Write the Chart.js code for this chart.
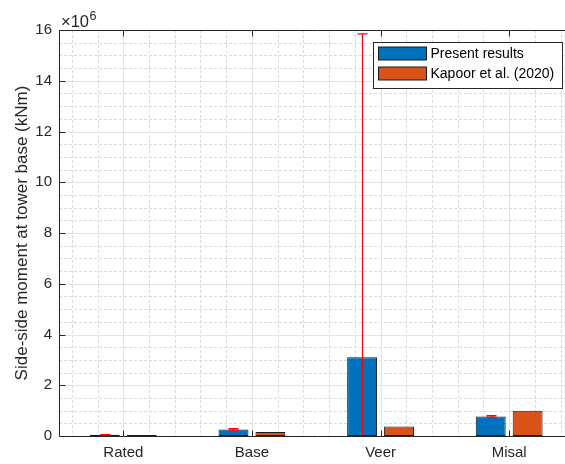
<!DOCTYPE html>
<html><head><meta charset="utf-8">
<script src="https://cdn.jsdelivr.net/npm/chart.js@4.4.1/dist/chart.umd.min.js"></script>
<style>html,body{margin:0;padding:0;background:#fff;overflow:hidden;width:565px;height:464px}canvas{display:block}</style>
</head><body>
<canvas id="c" width="580" height="464"></canvas>
<script>
const categories = ['Rated', 'Base', 'Veer', 'Misal'];
const seriesLabels = ['Present results', 'Kapoor et al. (2020)'];
const presentResults = [0.045, 0.26, 3.10, 0.77];
const kapoor2020 = [0.035, 0.16, 0.37, 1.00];
const presentErrPlus = [0.01, 0.03, 12.75, 0.03];
const presentErrMinus = [0.01, 0.03, 12.75, 0.03];
const yTicks = [0, 2, 4, 6, 8, 10, 12, 14, 16];
const yMinorStep = 0.5;
const xMinorStep = 0.2;
const exponentBase = '×10';
const exponentPower = '6';
const yTitle = 'Side-side moment at tower base (kNm)';

const FONT = '"Liberation Sans", Arial, Helvetica, sans-serif';
const AXC = '#262626';

function catPx(xs, v) {
  const p0 = xs.getPixelForValue(0), p1 = xs.getPixelForValue(1);
  return p0 + (v - 1) * (p1 - p0);
}

const gridPlugin = {
  id: 'grid',
  beforeDatasetsDraw(chart) {
    const {ctx, chartArea: a, scales: {x, y}} = chart;
    ctx.save();
    ctx.beginPath(); ctx.rect(a.left, a.top, a.right - a.left, a.bottom - a.top); ctx.clip();
    // minor grid
    ctx.strokeStyle = '#dadada'; ctx.lineWidth = 1; ctx.setLineDash([3, 2]);
    const yMax = yTicks[yTicks.length - 1];
    for (let v = yMinorStep; v < yMax; v += yMinorStep) {
      if (yTicks.includes(v)) continue;
      const py = Math.round(y.getPixelForValue(v)) + 0.5;
      ctx.beginPath(); ctx.moveTo(a.left, py); ctx.lineTo(a.right, py); ctx.stroke();
    }
    for (let k = Math.round(0.6 / xMinorStep); k <= Math.round((categories.length + 0.4) / xMinorStep); k++) {
      const v = k * xMinorStep;
      if (Math.abs(v - Math.round(v)) < 1e-6) continue;
      const px = Math.round(catPx(x, v)) + 0.5;
      ctx.beginPath(); ctx.moveTo(px, a.top); ctx.lineTo(px, a.bottom); ctx.stroke();
    }
    // major grid
    ctx.setLineDash([]); ctx.strokeStyle = '#e3e3e3';
    yTicks.forEach(v => {
      const py = Math.round(y.getPixelForValue(v)) + 0.5;
      ctx.beginPath(); ctx.moveTo(a.left, py); ctx.lineTo(a.right, py); ctx.stroke();
    });
    categories.forEach((c, i) => {
      const px = Math.round(x.getPixelForValue(i)) + 0.5;
      ctx.beginPath(); ctx.moveTo(px, a.top); ctx.lineTo(px, a.bottom); ctx.stroke();
    });
    ctx.restore();
  },
  afterDatasetsDraw(chart) {
    const {ctx, chartArea: a, scales: {x, y}} = chart;
    // error bars
    const meta = chart.getDatasetMeta(0);
    ctx.save();
    ctx.beginPath(); ctx.rect(a.left, a.top - 1, a.right - a.left, a.bottom - a.top + 1); ctx.clip();
    ctx.strokeStyle = '#ff0000'; ctx.lineWidth = 1.2;
    meta.data.forEach((bar, i) => {
      const v = presentResults[i];
      const yh = y.getPixelForValue(v + presentErrPlus[i]);
      const yl = y.getPixelForValue(v - presentErrMinus[i]);
      const bx = Math.round(bar.x) + 0.5;
      ctx.beginPath(); ctx.moveTo(bx, yl); ctx.lineTo(bx, yh); ctx.stroke();
      ctx.beginPath(); ctx.moveTo(bx - 5, yh); ctx.lineTo(bx + 5, yh); ctx.stroke();
      ctx.beginPath(); ctx.moveTo(bx - 5, yl); ctx.lineTo(bx + 5, yl); ctx.stroke();
    });
    ctx.restore();
    // axes lines and ticks
    ctx.save();
    ctx.strokeStyle = AXC; ctx.lineWidth = 1;
    const L = Math.round(a.left) + 0.5, B = Math.round(a.bottom) + 0.5, T = Math.round(a.top) + 0.5;
    ctx.beginPath(); ctx.moveTo(L, T); ctx.lineTo(L, B); ctx.lineTo(a.right + 2, B); ctx.stroke();
    ctx.beginPath(); ctx.moveTo(L, T); ctx.lineTo(a.right + 2, T); ctx.stroke();
    const tl = 6;
    yTicks.forEach(v => {
      const py = Math.round(y.getPixelForValue(v)) + 0.5;
      ctx.beginPath(); ctx.moveTo(L, py); ctx.lineTo(L + tl, py); ctx.stroke();
    });
    categories.forEach((c, i) => {
      const px = Math.round(x.getPixelForValue(i)) + 0.5;
      ctx.beginPath(); ctx.moveTo(px, B); ctx.lineTo(px, B - tl); ctx.stroke();
      ctx.beginPath(); ctx.moveTo(px, T); ctx.lineTo(px, T + tl); ctx.stroke();
    });
    // exponent label
    ctx.fillStyle = AXC; ctx.textBaseline = 'alphabetic'; ctx.textAlign = 'left';
    ctx.font = '16.5px ' + FONT;
    ctx.fillText(exponentBase, a.left + 2, a.top - 3);
    const w = ctx.measureText(exponentBase).width;
    ctx.font = '12.5px ' + FONT;
    ctx.fillText(exponentPower, a.left + 2 + w + 0.5, a.top - 10);
    // legend
    const bw = 189, bh = 46;
    const bxL = Math.round(a.right - 11.5 - bw) + 0.5, byT = Math.round(a.top + 12) + 0.5;
    ctx.fillStyle = '#ffffff'; ctx.fillRect(bxL, byT, bw, bh);
    ctx.strokeStyle = AXC; ctx.strokeRect(bxL, byT, bw, bh);
    ctx.font = '14px ' + FONT; ctx.textBaseline = 'middle';
    chart.data.datasets.forEach((ds, i) => {
      const cy = byT + 10.5 + i * 20;
      ctx.fillStyle = ds.backgroundColor;
      ctx.fillRect(bxL + 5, Math.round(cy - 6.5), 48, 13);
      ctx.strokeStyle = '#1a1a1a';
      ctx.strokeRect(bxL + 5, Math.round(cy - 6.5) + 0, 48, 13);
      ctx.fillStyle = '#000';
      ctx.fillText(ds.label, bxL + 57, cy + 1);
    });
    ctx.restore();
  }
};

new Chart(document.getElementById('c'), {
  type: 'bar',
  data: {
    labels: categories,
    datasets: [
      {label: seriesLabels[0], data: presentResults, backgroundColor: '#0072BD', borderColor: '#1a1a1a', borderWidth: 1, borderSkipped: false},
      {label: seriesLabels[1], data: kapoor2020, backgroundColor: '#D95319', borderColor: '#1a1a1a', borderWidth: 1, borderSkipped: false}
    ]
  },
  options: {
    responsive: false,
    animation: false,
    devicePixelRatio: 1,
    layout: {padding: {left: 0, top: 30, right: 6.5, bottom: 0}},
    datasets: {bar: {categoryPercentage: 0.574, barPercentage: 0.81}},
    plugins: {legend: {display: false}, tooltip: {enabled: false}},
    scales: {
      x: {
        grid: {display: false, drawTicks: false}, border: {display: false},
        ticks: {color: AXC, font: {family: FONT, size: 15}, padding: 8, maxRotation: 0},
        afterFit: s => { s.height = 28; }
      },
      y: {
        min: 0, max: 16,
        grid: {display: false, drawTicks: false}, border: {display: false},
        afterBuildTicks: s => { s.ticks = yTicks.map(v => ({value: v})); },
        ticks: {color: AXC, font: {family: FONT, size: 15}, padding: 7, callback: v => String(v)},
        title: {display: true, text: yTitle, color: AXC, font: {family: FONT, size: 17}, padding: {top: 12, bottom: 0}},
        afterFit: s => { s.width = 59; }
      }
    }
  },
  plugins: [gridPlugin]
});
</script>
</body></html>
